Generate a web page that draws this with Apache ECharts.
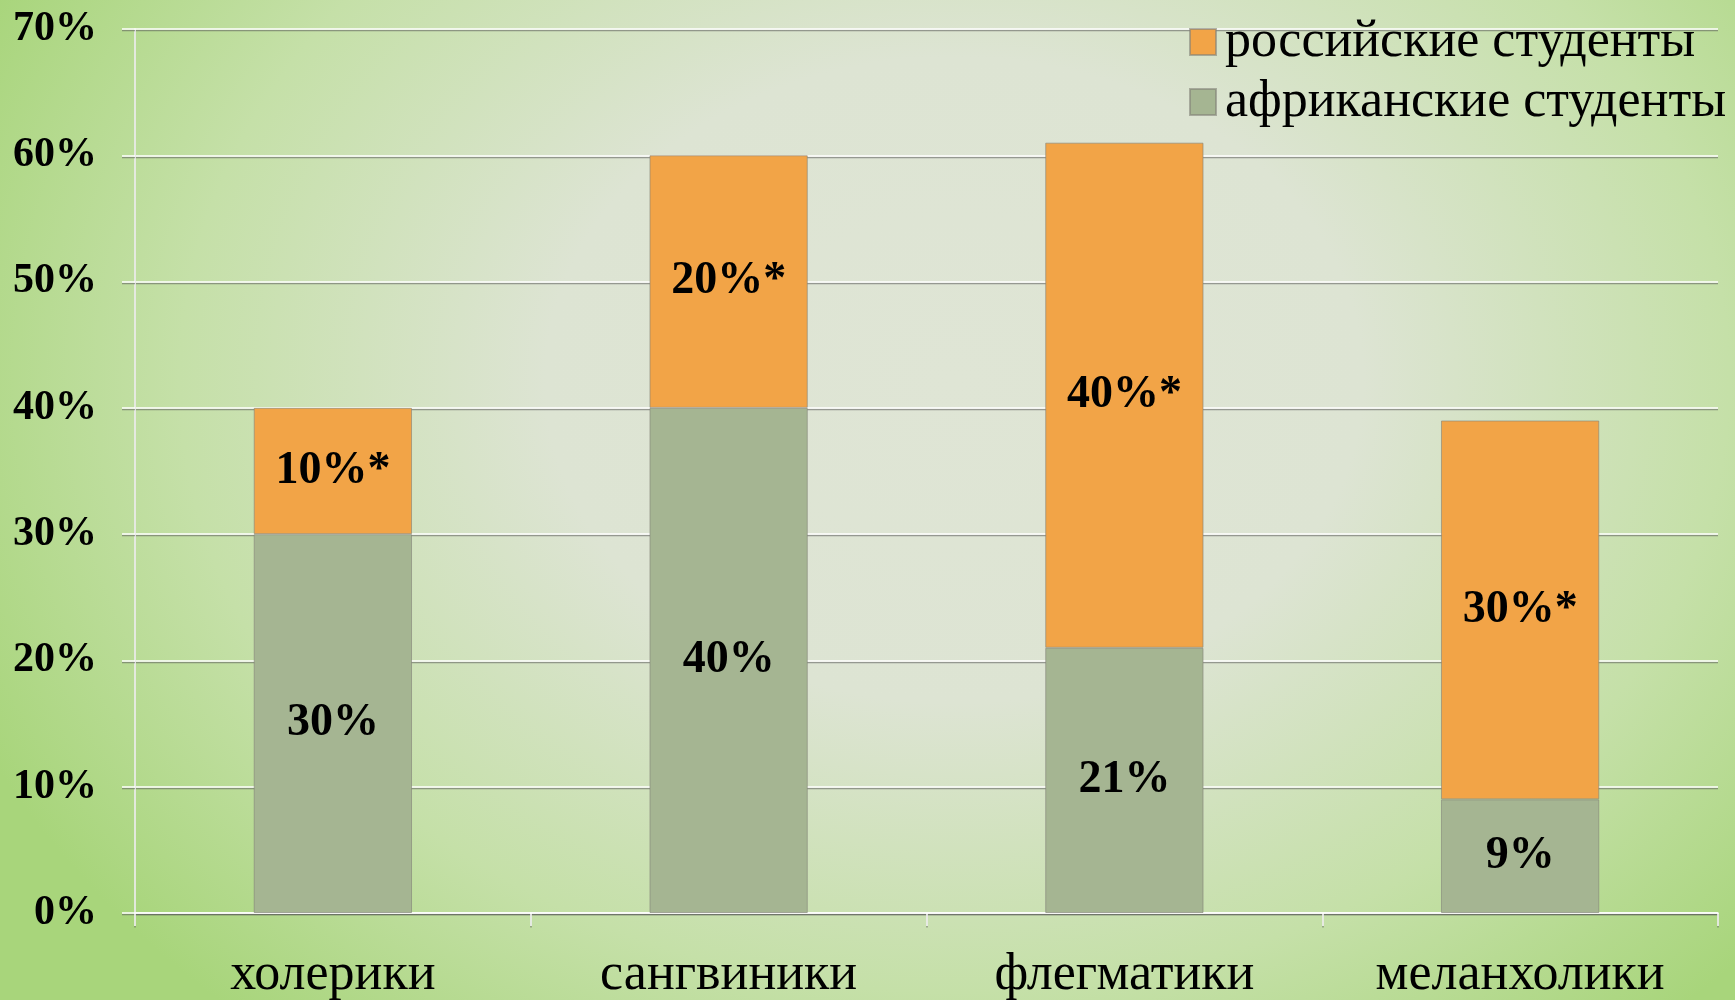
<!DOCTYPE html>
<html>
<head>
<meta charset="utf-8">
<style>
  html, body { margin: 0; padding: 0; }
  #chart {
    width: 1735px;
    height: 1000px;
    background: radial-gradient(ellipse 62% 85% at 55% 38%, #dfe5d5 0%, #dde4d3 38%, #c5e0a8 72%, #a8d57b 100%);
  }
</style>
</head>
<body>
<div id="chart"></div>
<script src="https://cdn.jsdelivr.net/npm/echarts@6/dist/echarts.min.js"></script>
<script>
var categories = ['холерики', 'сангвиники', 'флегматики', 'меланхолики']
var africanValues = [30, 40, 21, 9]
var russianValues = [10, 20, 40, 30]
var seriesNames = ['российские студенты', 'африканские студенты']

var FONT = '"Liberation Serif", "DejaVu Serif", serif'
var lineStyle = {
  color: '#ffffff',
  width: 1.5,
  shadowColor: 'rgba(90,90,90,0.55)',
  shadowOffsetY: 1.5,
  shadowBlur: 0
}

var chart = echarts.init(document.getElementById('chart'))

chart.setOption({
  backgroundColor: 'transparent',
  animation: false,
  textStyle: { fontFamily: FONT },
  legend: {
    data: seriesNames,
    orient: 'vertical',
    left: 1184,
    top: 11,
    icon: 'rect',
    itemWidth: 26,
    itemHeight: 26,
    itemGap: 8,
    textStyle: { fontSize: 52, color: '#000', fontFamily: FONT, padding: [0, 0, 0, 4] }
  },
  grid: {
    left: 135,
    right: 17,
    top: 29,
    bottom: 87,
    containLabel: false,
    outerBoundsMode: 'none'
  },
  xAxis: {
    type: 'category',
    data: categories,
    axisLine: { show: true, lineStyle: lineStyle },
    axisTick: { show: true, length: 13, lineStyle: lineStyle },
    axisLabel: { fontSize: 52, color: '#000', margin: 36, fontFamily: FONT }
  },
  yAxis: {
    type: 'value',
    min: 0,
    max: 70,
    interval: 10,
    axisLine: { show: true, lineStyle: lineStyle },
    axisTick: { show: true, length: 13, lineStyle: lineStyle },
    axisLabel: {
      formatter: '{value}%',
      fontSize: 42,
      fontWeight: 'bold',
      color: '#000',
      margin: 38,
      fontFamily: FONT
    },
    splitLine: { show: true, lineStyle: lineStyle }
  },
  series: [
    {
      name: seriesNames[1],
      type: 'bar',
      stack: 'total',
      barWidth: '40%',
      data: africanValues,
      itemStyle: { color: '#a5b592', borderColor: 'rgba(130,130,120,0.6)', borderWidth: 1 },
      label: {
        show: true,
        position: 'inside',
        formatter: '{c}%',
        fontSize: 46,
        fontWeight: 'bold',
        color: '#000',
        fontFamily: FONT
      }
    },
    {
      name: seriesNames[0],
      type: 'bar',
      stack: 'total',
      barWidth: '40%',
      data: russianValues,
      itemStyle: { color: '#f2a447', borderColor: 'rgba(130,130,120,0.6)', borderWidth: 1 },
      label: {
        show: true,
        position: 'inside',
        formatter: '{c}%*',
        fontSize: 46,
        fontWeight: 'bold',
        color: '#000',
        fontFamily: FONT
      }
    }
  ]
})
</script>
</body>
</html>
